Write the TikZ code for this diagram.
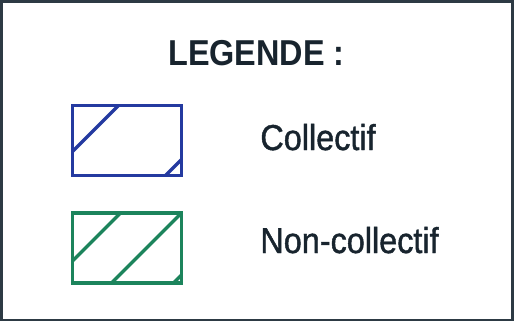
\documentclass[tikz,border=0pt]{standalone}
\usepackage{fontspec}
\setmainfont{Liberation Sans}[FakeStretch=0.9]
\newfontfamily\labelfont{Liberation Sans}[FakeStretch=0.9, FakeBold=1.2]
\usepackage{xcolor}
\usepackage{tikz}
\usetikzlibrary{positioning}

\definecolor{collblue}{RGB}{36,58,160}
\definecolor{ncollgreen}{RGB}{28,132,92}
\definecolor{inkdark}{RGB}{24,36,46}
\definecolor{framegray}{RGB}{45,58,68}

\begin{document}
\begin{tikzpicture}[x=1pt, y=-1pt, thick]
\useasboundingbox (0,0) rectangle (519,322);

% --- Style Definitions ---
% Legend boxes
\tikzstyle{legend_box}=[rectangle, line width=3.5pt, minimum width=109pt, minimum height=70pt, inner sep=0pt]
\tikzstyle{coll_box}=[legend_box, draw=collblue, color=collblue]
\tikzstyle{ncoll_box}=[legend_box, draw=ncollgreen, color=ncollgreen]
% Hatching inside a box
\tikzset{hatch/.style={path picture={
  \foreach \d in {#1}
    \draw[line width=3.5pt] ([xshift=\d pt]path picture bounding box.north west) -- ++(-120,120);
}}}
% Texts
\tikzstyle{title_text}=[inner sep=0pt, anchor=base, text=inkdark, font=\fontsize{36}{40}\selectfont\bfseries]
\tikzstyle{label_text}=[inner sep=0pt, anchor=base west, text=inkdark, font=\fontsize{36}{40}\labelfont]

% --- Frame ---
\draw[framegray, line width=2.5pt] (1.5,1.5) rectangle (512.5,320);

% --- Title ---
\node[title_text] (legend_title) at (256.5,65) {LEGENDE :};

% --- Boxes ---
\node[coll_box, hatch={46,163}] (coll_hatch) at (127,140.5) {};
\node[ncoll_box, hatch={48,109,171}, below=34pt of coll_hatch] (ncoll_hatch) {};

% --- Labels ---
\node[label_text] (coll_label) at (260,150) {Collectif};
\node[label_text] (ncoll_label) at (260,253) {Non-collectif};

\end{tikzpicture}
\end{document}
